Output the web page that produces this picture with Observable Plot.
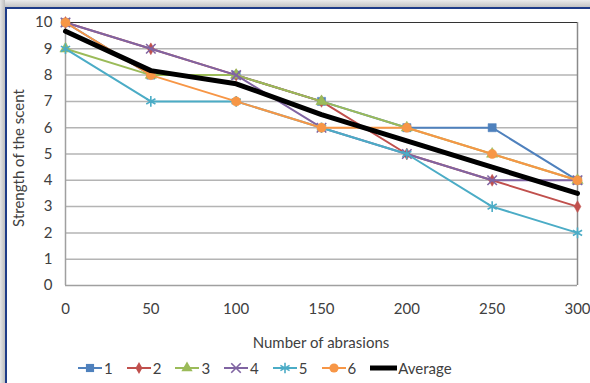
<!DOCTYPE html>
<html><head><meta charset="utf-8">
<script src="https://cdn.jsdelivr.net/npm/d3@7"></script>
<script src="https://cdn.jsdelivr.net/npm/@observablehq/plot@0.6"></script>
<style>
body{margin:0;background:#fff;font-family:Lato,"Liberation Sans",sans-serif;color:#404040;}
#frame{position:relative;width:590px;height:383px;overflow:hidden;background:#fff;}
#shadowTop{position:absolute;left:0;top:0;width:590px;height:7px;background:linear-gradient(#ececec,#c4c4c4);}
#shadowLeft{position:absolute;left:0;top:0;width:5px;height:383px;background:linear-gradient(90deg,#e6e6e6,#bdbdbd);}
#panel{position:absolute;left:5px;top:7px;width:585px;height:376px;border-left:2px solid #1f3c88;border-top:2px solid #1f3c88;background:#fff;}
#chart{position:absolute;left:0;top:0;}
#ytitle{position:absolute;left:-89px;top:140px;width:200px;height:18px;line-height:18px;text-align:center;font-size:15px;transform:rotate(-90deg);color:#404040;}
#xtitle{position:absolute;left:214px;top:324px;width:200px;line-height:18px;text-align:center;font-size:15px;color:#404040;}
#legend{position:absolute;left:71px;top:350px;height:18px;display:flex;align-items:center;font-size:15px;color:#404040;}
.item{display:flex;align-items:center;margin-right:14px;}
.item svg{display:block;}
.item span{margin-left:2px;line-height:18px;}
</style></head>
<body>
<div id="frame">
  <div id="shadowTop"></div><div id="shadowLeft"></div>
  <div id="panel">
    <div id="chart"></div>
    <div id="ytitle">Strength of the scent</div>
    <div id="xtitle">Number of abrasions</div>
    <div id="legend"></div>
  </div>
</div>
<script>
const abrasions = [0, 50, 100, 150, 200, 250, 300];
const seriesNames = ["1", "2", "3", "4", "5", "6"];
const s1 = [10, 8, 8, 7, 6, 6, 4];
const s2 = [10, 9, 8, 7, 5, 4, 3];
const s3 = [9, 8, 8, 7, 6, 5, 4];
const s4 = [10, 9, 8, 6, 5, 4, 4];
const s5 = [9, 7, 7, 6, 5, 3, 2];
const s6 = [10, 8, 7, 6, 6, 5, 4];
const average = [9.67, 8.17, 7.67, 6.5, 5.5, 4.5, 3.5];
const yTicks = [0, 1, 2, 3, 4, 5, 6, 7, 8, 9, 10];

const colors = ["#4F81BD", "#C0504D", "#9BBB59", "#8064A2", "#4BACC6", "#F79646"];
const symbols = ["square", "diamond", "triangle", "times", "asterisk", "circle"];
const radii = [4.6, 3.6, 4.2, 4.4, 5, 4.6];
const strokeSym = [false, false, false, true, true, false];
const allSeries = [s1, s2, s3, s4, s5, s6];

const rows = (vals) => abrasions.map((x, j) => ({x, y: vals[j]}));

const marks = [
  Plot.ruleY(yTicks.filter(d => d > 0 && d < 10), {stroke: "#b4b4b4", strokeWidth: 1.5}),
  Plot.ruleY([0], {stroke: "#a0a0a0", strokeWidth: 1.5}),
  Plot.ruleX([0], {stroke: "#a0a0a0", strokeWidth: 1.5}),
  Plot.ruleX([300], {stroke: "#8a8a8a", strokeWidth: 1.5}),
  Plot.ruleY([10], {stroke: "#333", strokeWidth: 1.2})
];
allSeries.forEach((vals, i) => {
  const d = rows(vals);
  marks.push(Plot.line(d, {x: "x", y: "y", stroke: colors[i], strokeWidth: 2}));
  marks.push(strokeSym[i]
    ? Plot.dot(d, {x: "x", y: "y", symbol: symbols[i], r: radii[i], stroke: colors[i], strokeWidth: 1.6})
    : Plot.dot(d, {x: "x", y: "y", symbol: symbols[i], r: radii[i], fill: colors[i], stroke: colors[i], strokeWidth: 0.5}));
});
marks.push(Plot.line(rows(average), {x: "x", y: "y", stroke: "#000", strokeWidth: 5}));

const chart = Plot.plot({
  width: 583, height: 310,
  marginLeft: 58, marginRight: 13, marginTop: 13, marginBottom: 34,
  style: {fontFamily: "Lato, 'Liberation Sans', sans-serif", fontSize: "15px", color: "#404040", background: "transparent"},
  x: {domain: [0, 300], ticks: abrasions, tickSize: 0, tickPadding: 18, label: null},
  y: {domain: [0, 10], ticks: yTicks, tickSize: 0, tickPadding: 13, label: null},
  marks
});
document.getElementById("chart").appendChild(chart);

// legend
const legend = document.getElementById("legend");
seriesNames.forEach((name, i) => {
  const item = document.createElement("div"); item.className = "item";
  const svg = d3.create("svg").attr("width", 24).attr("height", 18);
  svg.append("line").attr("x1", 0).attr("x2", 24).attr("y1", 9).attr("y2", 9).attr("stroke", colors[i]).attr("stroke-width", 2);
  const sym = {square: d3.symbolSquare, diamond: d3.symbolDiamond, triangle: d3.symbolTriangle, times: d3.symbolTimes, asterisk: d3.symbolAsterisk, circle: d3.symbolCircle}[symbols[i]];
  const p = svg.append("path").attr("transform", "translate(12,9)").attr("d", d3.symbol(sym, radii[i] * radii[i] * Math.PI)());
  if (strokeSym[i]) p.attr("fill", "none").attr("stroke", colors[i]).attr("stroke-width", 1.6);
  else p.attr("fill", colors[i]);
  item.appendChild(svg.node());
  const s = document.createElement("span"); s.textContent = name; item.appendChild(s);
  legend.appendChild(item);
});
{
  const item = document.createElement("div"); item.className = "item";
  const svg = d3.create("svg").attr("width", 27).attr("height", 18);
  svg.append("line").attr("x1", 0).attr("x2", 27).attr("y1", 9).attr("y2", 9).attr("stroke", "#000").attr("stroke-width", 5);
  item.appendChild(svg.node());
  const s = document.createElement("span"); s.textContent = "Average"; s.style.marginLeft = "1px"; item.appendChild(s);
  legend.appendChild(item);
}
</script>
</body></html>
